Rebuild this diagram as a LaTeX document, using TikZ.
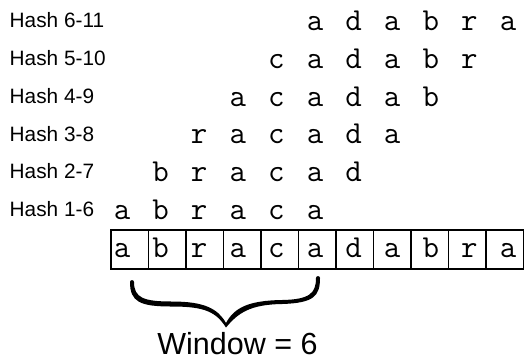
\documentclass[tikz,border=0pt]{standalone}
\usepackage{fontspec}
\newfontfamily\sansf{Liberation Sans}
\begin{document}
\begin{tikzpicture}[x=1pt,y=-1pt,
  hashlabel/.style={anchor=base west,inner sep=0pt,font=\sansf\fontsize{20.8}{24}\selectfont},
  letter/.style={anchor=base,inner sep=0pt,font=\ttfamily\fontsize{32}{38}\selectfont},
  cell/.style={draw,line width=1.6pt,minimum width=37.5pt,minimum height=39pt,inner sep=0pt,anchor=north west},
  caption/.style={anchor=base,inner sep=0pt,font=\sansf\fontsize{30.5}{36}\selectfont}]
\useasboundingbox (0,0) rectangle (524,360);

% the string laid out in a row of cells
\foreach \i in {0,...,10}{
  \node[cell] (c\i) at (110+37.5*\i,229) {};
}
\foreach \ch [count=\i from 0] in {a,b,r,a,c,a,d,a,b,r,a}{
  \node[letter] (s\i) at (122+38.6*\i,257) {\ch};
}

% one row per hashed window
\foreach \k in {1,...,6}{
  \pgfmathsetmacro\yb{30.5+37.8*(6-\k)}
  \pgfmathsetmacro\yl{27.7+37.8*(6-\k)}
  \node[hashlabel] (h\k) at (9.5,\yl) {Hash \k-\the\numexpr\k+5\relax};
  \foreach \ch [count=\i from 0] in {a,b,r,a,c,a,d,a,b,r,a}{
    \ifnum\i<\numexpr\k-1\relax\else\ifnum\i>\numexpr\k+4\relax\else
      \node[letter] (r\k-\i) at (122+38.6*\i,\yb) {\ch};
    \fi\fi
  }
}

% brace under the first window
\fill (130,282) .. controls (130,302) and (140,306.5) .. (172,306.5)
  .. controls (205,306.5) and (216,312) .. (226,327.5)
  .. controls (238,313) and (250,304.5) .. (282,304)
  .. controls (314,303) and (320,296) .. (320,278)
  .. controls (320,275.5) and (316,275.5) .. (316,278)
  .. controls (316,293) and (310,299.5) .. (282,300)
  .. controls (248,300.5) and (234,308) .. (226,323)
  .. controls (218,309) and (205,301.5) .. (172,301.5)
  .. controls (144,301.5) and (134,298) .. (134,282)
  .. controls (134,279.5) and (130,279.5) .. (130,282) -- cycle;

\node[caption] (win) at (237.5,354.5) {Window = 6};
\end{tikzpicture}
\end{document}
